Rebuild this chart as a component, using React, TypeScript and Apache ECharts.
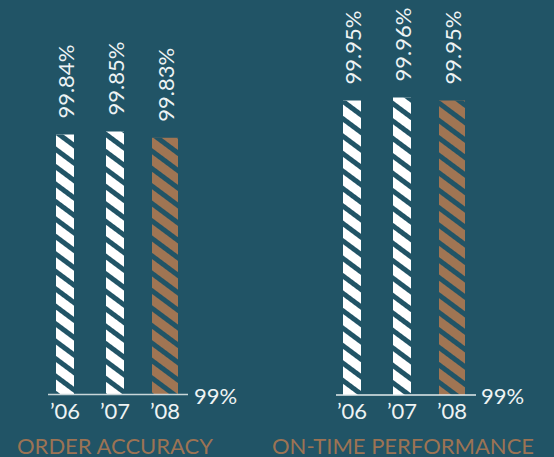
import React, { useEffect, useRef } from "react";
import * as echarts from "echarts";

// Yearly figures for the two service metrics
const years = ["\u201906", "\u201907", "\u201908"];
const orderAccuracy = [99.84, 99.85, 99.83];
const onTimePerformance = [99.95, 99.96, 99.95];
const baseTick = 99;
const panelTitles = ["ORDER ACCURACY", "ON-TIME PERFORMANCE"];

const BG = "#215466";
const BROWN = "#a07553";
const TITLE = "#9c7354";
const TEXT = "#eef3f4";
const FONT = "Lato, 'Noto Sans', sans-serif";

const stripes = (rotation: number) => ({
  symbol: "rect",
  symbolSize: 1,
  color: BG,
  dashArrayX: [1, 0],
  dashArrayY: [5, 9],
  rotation,
});

export default function App() {
  const ref = useRef<HTMLDivElement>(null);

  useEffect(() => {
    if (!ref.current) return;
    const chart = echarts.init(ref.current, null, { renderer: "svg" });

    const grids = [
      { left: 40, width: 150, top: 85, height: 310 },
      { left: 327, width: 150, top: 85, height: 310 },
    ];
    const panels = [orderAccuracy, onTimePerformance];

    const xAxes: any[] = [];
    const yAxes: any[] = [];
    const series: any[] = [];

    panels.forEach((values, g) => {
      // visible category axis (white bars) + hidden twin (highlighted latest year)
      xAxes.push({
        type: "category",
        gridIndex: g,
        data: years,
        axisLine: { show: false },
        axisTick: { show: false },
        axisLabel: { color: TEXT, fontSize: 22, fontFamily: FONT, margin: 4 },
      });
      xAxes.push({
        type: "category",
        gridIndex: g,
        data: years,
        show: false,
      });
      yAxes.push({
        type: "value",
        gridIndex: g,
        position: "right",
        min: baseTick,
        max: baseTick + 1,
        interval: 1,
        axisLine: { show: false },
        axisTick: { show: false },
        splitLine: { show: false },
        axisLabel: {
          color: TEXT,
          fontSize: 22,
          fontFamily: FONT,
          margin: 4,
          formatter: (v: number) => (v === baseTick ? `${v}%` : ""),
        },
      });

      const label = {
        show: true,
        position: "top",
        rotate: 90,
        align: "left",
        verticalAlign: "middle",
        distance: 16,
        color: TEXT,
        fontSize: 22,
        fontFamily: FONT,
        formatter: "{c}%",
      };

      series.push({
        type: "bar",
        xAxisIndex: g * 2,
        yAxisIndex: g,
        barWidth: 18,
        data: values.map((v, i) => (i < values.length - 1 ? v : "-")),
        itemStyle: { color: "#ffffff", decal: stripes(0.64) },
        label,
      });
      series.push({
        type: "bar",
        xAxisIndex: g * 2 + 1,
        yAxisIndex: g,
        barWidth: 26,
        data: values.map((v, i) => (i === values.length - 1 ? v : "-")),
        itemStyle: { color: BROWN, decal: stripes(0.64) },
        label,
      });
    });

    const titleStyle = {
      color: TITLE,
      fontSize: 22,
      lineHeight: 18,
      fontWeight: "normal",
      fontFamily: FONT,
    };

    chart.setOption({
      animation: false,
      backgroundColor: BG,
      grid: grids,
      xAxis: xAxes,
      yAxis: yAxes,
      series,
      title: [
        { text: panelTitles[0], left: 17, top: 436, padding: 0, textStyle: titleStyle },
        { text: panelTitles[1], left: 272, top: 436, padding: 0, textStyle: titleStyle },
      ],
      graphic: [
        {
          type: "line",
          shape: { x1: 48, y1: 394.5, x2: 188, y2: 394.5 },
          style: { stroke: "#c9d6d9", lineWidth: 1.5 },
          z: 10,
        },
        {
          type: "line",
          shape: { x1: 336, y1: 395, x2: 476, y2: 395 },
          style: { stroke: "#e3ebed", lineWidth: 1.5 },
          z: 10,
        },
      ],
    });

    return () => chart.dispose();
  }, []);

  return (
    <div
      ref={ref}
      style={{ position: "fixed", left: 0, top: 0, width: 554, height: 457 }}
    />
  );
}
